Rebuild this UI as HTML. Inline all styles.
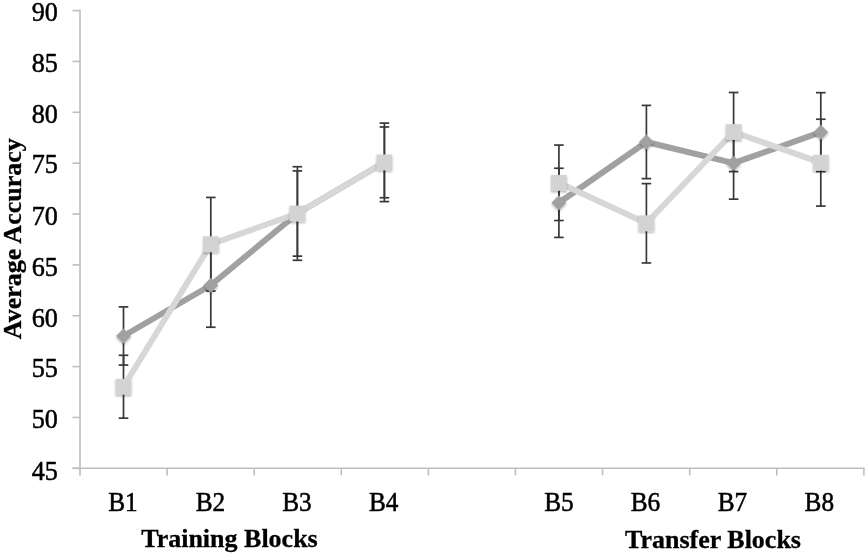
<!DOCTYPE html><html><head><meta charset="utf-8"><style>html,body{margin:0;padding:0;background:#fff;width:867px;height:556px;overflow:hidden}svg{position:absolute;left:0;top:0;opacity:0.999}#w{position:absolute;left:0;top:0;width:867px;height:556px}text{font-family:"Liberation Serif",serif;fill:#000;stroke:#000;stroke-width:0.55px}</style></head><body>
<div id="w"><svg width="867" height="556" viewBox="0 0 867 556">
<defs><filter id="sh" x="-50%" y="-50%" width="200%" height="200%"><feDropShadow dx="0" dy="1.6" stdDeviation="1.3" flood-color="#000" flood-opacity="0.3"/></filter></defs>
<g stroke="#bebebe" stroke-width="1.6" fill="none">
<line x1="80.0" y1="9.799999999999999" x2="80.0" y2="475.4"/>
<line x1="72.5" y1="468.3" x2="864.6999999999999" y2="468.3"/>
<line x1="72.5" y1="468.30" x2="80.0" y2="468.30"/>
<line x1="72.5" y1="417.44" x2="80.0" y2="417.44"/>
<line x1="72.5" y1="366.59" x2="80.0" y2="366.59"/>
<line x1="72.5" y1="315.73" x2="80.0" y2="315.73"/>
<line x1="72.5" y1="264.88" x2="80.0" y2="264.88"/>
<line x1="72.5" y1="214.02" x2="80.0" y2="214.02"/>
<line x1="72.5" y1="163.17" x2="80.0" y2="163.17"/>
<line x1="72.5" y1="112.31" x2="80.0" y2="112.31"/>
<line x1="72.5" y1="61.46" x2="80.0" y2="61.46"/>
<line x1="72.5" y1="10.60" x2="80.0" y2="10.60"/>
<line x1="167.10" y1="468.3" x2="167.10" y2="475.4"/>
<line x1="254.20" y1="468.3" x2="254.20" y2="475.4"/>
<line x1="341.30" y1="468.3" x2="341.30" y2="475.4"/>
<line x1="428.40" y1="468.3" x2="428.40" y2="475.4"/>
<line x1="515.50" y1="468.3" x2="515.50" y2="475.4"/>
<line x1="602.60" y1="468.3" x2="602.60" y2="475.4"/>
<line x1="689.70" y1="468.3" x2="689.70" y2="475.4"/>
<line x1="776.80" y1="468.3" x2="776.80" y2="475.4"/>
<line x1="863.90" y1="468.3" x2="863.90" y2="475.4"/>
</g>
<text transform="translate(57.9,480.20) scale(0.935,1)" text-anchor="end" font-size="28">45</text>
<text transform="translate(57.9,428.24) scale(0.935,1)" text-anchor="end" font-size="28">50</text>
<text transform="translate(57.9,376.79) scale(0.935,1)" text-anchor="end" font-size="28">55</text>
<text transform="translate(57.9,327.13) scale(0.935,1)" text-anchor="end" font-size="28">60</text>
<text transform="translate(57.9,276.28) scale(0.935,1)" text-anchor="end" font-size="28">65</text>
<text transform="translate(57.9,224.82) scale(0.935,1)" text-anchor="end" font-size="28">70</text>
<text transform="translate(57.9,173.17) scale(0.935,1)" text-anchor="end" font-size="28">75</text>
<text transform="translate(57.9,122.81) scale(0.935,1)" text-anchor="end" font-size="28">80</text>
<text transform="translate(57.9,72.16) scale(0.935,1)" text-anchor="end" font-size="28">85</text>
<text transform="translate(57.9,21.10) scale(0.935,1)" text-anchor="end" font-size="28">90</text>
<text transform="translate(123.00,510.8) scale(0.92,1)" text-anchor="middle" font-size="27.5">B1</text>
<text transform="translate(210.40,510.8) scale(0.92,1)" text-anchor="middle" font-size="27.5">B2</text>
<text transform="translate(297.00,510.8) scale(0.92,1)" text-anchor="middle" font-size="27.5">B3</text>
<text transform="translate(383.70,510.8) scale(0.92,1)" text-anchor="middle" font-size="27.5">B4</text>
<text transform="translate(558.90,510.8) scale(0.92,1)" text-anchor="middle" font-size="27.5">B5</text>
<text transform="translate(645.40,510.8) scale(0.92,1)" text-anchor="middle" font-size="27.5">B6</text>
<text transform="translate(732.50,510.8) scale(0.92,1)" text-anchor="middle" font-size="27.5">B7</text>
<text transform="translate(819.30,510.8) scale(0.92,1)" text-anchor="middle" font-size="27.5">B8</text>
<text x="229.5" y="547.2" text-anchor="middle" font-size="26" font-weight="bold" style="stroke-width:0.3px">Training Blocks</text>
<text x="713" y="547.6" text-anchor="middle" font-size="26" font-weight="bold" style="stroke-width:0.3px">Transfer Blocks</text>
<text transform="translate(21,238.7) rotate(-90)" text-anchor="middle" font-size="26" font-weight="bold" style="stroke-width:0.3px">Average Accuracy</text>
<polyline points="123.50,335.97 210.80,285.22 297.40,213.51 384.40,162.35" fill="none" stroke="#a1a1a1" stroke-width="6" stroke-linejoin="round"/>
<polyline points="558.90,202.83 646.40,142.01 733.60,163.17 820.80,132.14" fill="none" stroke="#a1a1a1" stroke-width="6" stroke-linejoin="round"/>
<polyline points="123.50,386.73 210.80,244.23 297.40,213.51 384.40,162.35" fill="none" stroke="#d7d7d7" stroke-width="6" stroke-linejoin="round"/>
<polyline points="558.90,182.80 646.40,223.28 733.60,132.04 820.80,162.66" fill="none" stroke="#d7d7d7" stroke-width="6" stroke-linejoin="round"/>
<g stroke="#383838" stroke-width="1.7">
<line x1="123.50" y1="306.88" x2="123.50" y2="365.06"/>
<line x1="118.70" y1="306.88" x2="128.30" y2="306.88"/>
<line x1="118.70" y1="365.06" x2="128.30" y2="365.06"/>
<line x1="210.80" y1="243.21" x2="210.80" y2="327.23"/>
<line x1="206.00" y1="243.21" x2="215.60" y2="243.21"/>
<line x1="206.00" y1="327.23" x2="215.60" y2="327.23"/>
<line x1="297.40" y1="170.90" x2="297.40" y2="256.13"/>
<line x1="292.60" y1="170.90" x2="302.20" y2="170.90"/>
<line x1="292.60" y1="256.13" x2="302.20" y2="256.13"/>
<line x1="384.40" y1="126.96" x2="384.40" y2="197.75"/>
<line x1="379.60" y1="126.96" x2="389.20" y2="126.96"/>
<line x1="379.60" y1="197.75" x2="389.20" y2="197.75"/>
<line x1="558.90" y1="168.25" x2="558.90" y2="237.42"/>
<line x1="554.10" y1="168.25" x2="563.70" y2="168.25"/>
<line x1="554.10" y1="237.42" x2="563.70" y2="237.42"/>
<line x1="646.40" y1="105.39" x2="646.40" y2="178.63"/>
<line x1="641.60" y1="105.39" x2="651.20" y2="105.39"/>
<line x1="641.60" y1="178.63" x2="651.20" y2="178.63"/>
<line x1="733.60" y1="127.16" x2="733.60" y2="199.17"/>
<line x1="728.80" y1="127.16" x2="738.40" y2="127.16"/>
<line x1="728.80" y1="199.17" x2="738.40" y2="199.17"/>
<line x1="820.80" y1="92.68" x2="820.80" y2="171.61"/>
<line x1="816.00" y1="92.68" x2="825.60" y2="92.68"/>
<line x1="816.00" y1="171.61" x2="825.60" y2="171.61"/>
<line x1="123.50" y1="355.30" x2="123.50" y2="418.16"/>
<line x1="118.70" y1="355.30" x2="128.30" y2="355.30"/>
<line x1="118.70" y1="418.16" x2="128.30" y2="418.16"/>
<line x1="210.80" y1="197.44" x2="210.80" y2="291.02"/>
<line x1="206.00" y1="197.44" x2="215.60" y2="197.44"/>
<line x1="206.00" y1="291.02" x2="215.60" y2="291.02"/>
<line x1="297.40" y1="166.73" x2="297.40" y2="260.30"/>
<line x1="292.60" y1="166.73" x2="302.20" y2="166.73"/>
<line x1="292.60" y1="260.30" x2="302.20" y2="260.30"/>
<line x1="384.40" y1="123.09" x2="384.40" y2="201.61"/>
<line x1="379.60" y1="123.09" x2="389.20" y2="123.09"/>
<line x1="379.60" y1="201.61" x2="389.20" y2="201.61"/>
<line x1="558.90" y1="145.06" x2="558.90" y2="220.53"/>
<line x1="554.10" y1="145.06" x2="563.70" y2="145.06"/>
<line x1="554.10" y1="220.53" x2="563.70" y2="220.53"/>
<line x1="646.40" y1="183.61" x2="646.40" y2="262.95"/>
<line x1="641.60" y1="183.61" x2="651.20" y2="183.61"/>
<line x1="641.60" y1="262.95" x2="651.20" y2="262.95"/>
<line x1="733.60" y1="92.48" x2="733.60" y2="171.61"/>
<line x1="728.80" y1="92.48" x2="738.40" y2="92.48"/>
<line x1="728.80" y1="171.61" x2="738.40" y2="171.61"/>
<line x1="820.80" y1="119.23" x2="820.80" y2="206.09"/>
<line x1="816.00" y1="119.23" x2="825.60" y2="119.23"/>
<line x1="816.00" y1="206.09" x2="825.60" y2="206.09"/>
</g>
<g filter="url(#sh)">
<polygon points="123.50,328.47 131.00,335.97 123.50,343.47 116.00,335.97" fill="#a1a1a1"/>
<polygon points="210.80,277.72 218.30,285.22 210.80,292.72 203.30,285.22" fill="#a1a1a1"/>
<polygon points="297.40,206.01 304.90,213.51 297.40,221.01 289.90,213.51" fill="#a1a1a1"/>
<polygon points="384.40,154.85 391.90,162.35 384.40,169.85 376.90,162.35" fill="#a1a1a1"/>
<polygon points="558.90,195.33 566.40,202.83 558.90,210.33 551.40,202.83" fill="#a1a1a1"/>
<polygon points="646.40,134.51 653.90,142.01 646.40,149.51 638.90,142.01" fill="#a1a1a1"/>
<polygon points="733.60,155.67 741.10,163.17 733.60,170.67 726.10,163.17" fill="#a1a1a1"/>
<polygon points="820.80,124.64 828.30,132.14 820.80,139.64 813.30,132.14" fill="#a1a1a1"/>
<rect x="115.60" y="378.83" width="15.8" height="15.8" fill="#d3d3d3"/>
<rect x="202.90" y="236.33" width="15.8" height="15.8" fill="#d3d3d3"/>
<rect x="289.50" y="205.61" width="15.8" height="15.8" fill="#d3d3d3"/>
<rect x="376.50" y="154.45" width="15.8" height="15.8" fill="#d3d3d3"/>
<rect x="551.00" y="174.90" width="15.8" height="15.8" fill="#d3d3d3"/>
<rect x="638.50" y="215.38" width="15.8" height="15.8" fill="#d3d3d3"/>
<rect x="725.70" y="124.14" width="15.8" height="15.8" fill="#d3d3d3"/>
<rect x="812.90" y="154.76" width="15.8" height="15.8" fill="#d3d3d3"/>
</g>
</svg></div></body></html>
